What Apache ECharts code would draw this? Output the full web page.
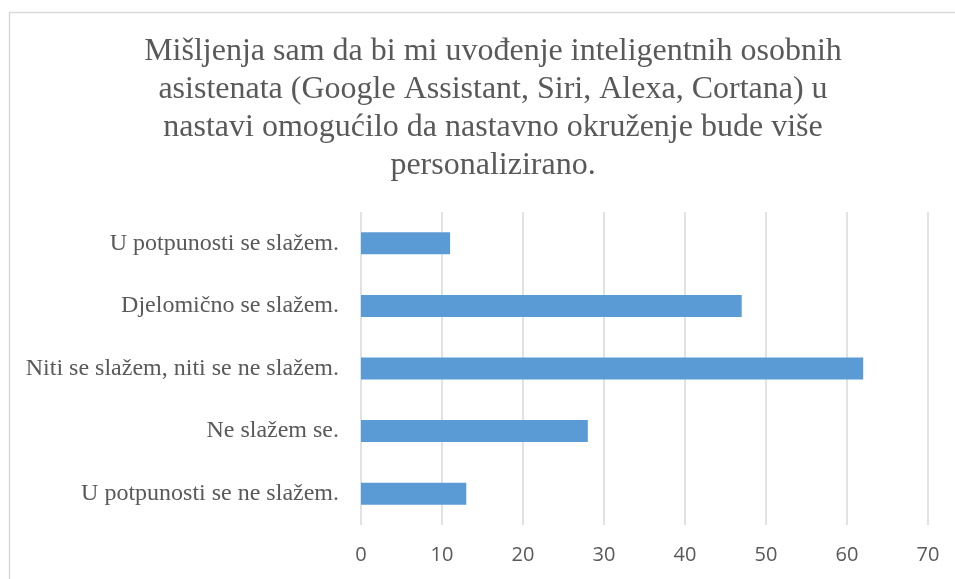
<!DOCTYPE html>
<html>
<head>
<meta charset="utf-8">
<script src="https://cdn.jsdelivr.net/npm/echarts@6/dist/echarts.min.js"></script>
<style>
  html, body { margin: 0; padding: 0; background: #fff; }
  #chart { width: 955px; height: 579px; }
</style>
</head>
<body>
<div id="chart"></div>
<script>
  // data, top to bottom
  var categories = [
    'U potpunosti se slažem.',
    'Djelomično se slažem.',
    'Niti se slažem, niti se ne slažem.',
    'Ne slažem se.',
    'U potpunosti se ne slažem.'
  ];
  var values = [11, 47, 62, 28, 13];
  var titleLines = [
    'Mišljenja sam da bi mi uvođenje inteligentnih osobnih',
    'asistenata (Google Assistant, Siri, Alexa, Cortana) u',
    'nastavi omogućilo da nastavno okruženje bude više',
    'personalizirano.'
  ];

  var myChart = echarts.init(document.getElementById('chart'));
  myChart.setOption({
    animation: false,
    title: {
      text: titleLines.join('\n'),
      left: 488,
      top: 28,
      textAlign: 'center',
      textStyle: {
        fontFamily: 'Liberation Serif',
        fontSize: 32,
        fontWeight: 'normal',
        lineHeight: 38,
        color: '#595959'
      }
    },
    graphic: [{
      type: 'polyline',
      shape: { points: [[9.5, 600], [9.5, 12.5], [1000, 12.5]] },
      style: { stroke: '#d9d9d9', lineWidth: 1.5, fill: null },
      silent: true
    }],
    grid: {
      left: 361,
      right: 27,
      top: 212,
      bottom: 54
    },
    xAxis: {
      type: 'value',
      min: 0,
      max: 70,
      interval: 10,
      axisLine: { show: false },
      axisTick: { show: false },
      splitLine: { lineStyle: { color: '#d9d9d9', width: 1.5 } },
      axisLabel: {
        margin: 20,
        fontFamily: 'Open Sans',
        fontSize: 20,
        color: '#595959'
      }
    },
    yAxis: {
      type: 'category',
      inverse: true,
      data: categories,
      axisLine: { show: false },
      axisTick: { show: false },
      axisLabel: {
        margin: 22,
        fontFamily: 'Liberation Serif',
        fontSize: 24,
        color: '#595959'
      }
    },
    series: [{
      type: 'bar',
      data: values,
      barWidth: 22,
      itemStyle: { color: '#5B9BD5' }
    }]
  });
</script>
</body>
</html>
